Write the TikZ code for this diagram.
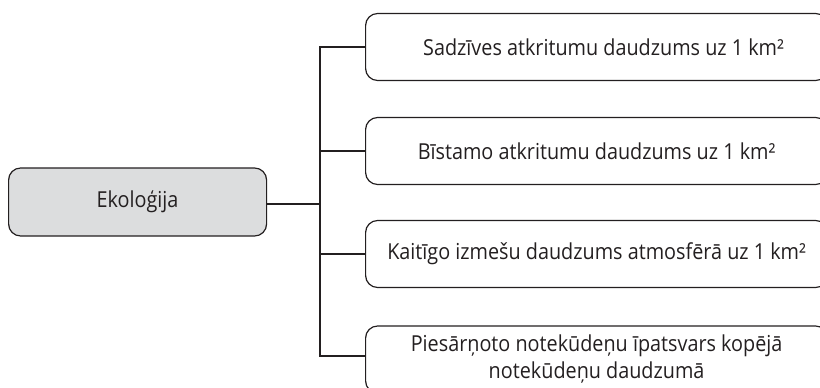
\documentclass[tikz,border=0pt]{standalone}
\usepackage{fontspec}
\setmainfont{Open Sans}[FakeStretch=0.9]
\definecolor{boxgray}{RGB}{220,221,222}
\definecolor{edge}{RGB}{35,31,32}
\begin{document}
\begin{tikzpicture}[x=1pt,y=-1pt,
  every node/.style={font=\fontsize{22}{27}\selectfont, text=edge},
  itembox/.style={draw=edge, line width=1.2pt, rounded corners=12pt, minimum width=462pt, minimum height=67pt, inner sep=0pt, align=center, anchor=west},
  rootbox/.style={draw=edge, fill=boxgray, line width=1.2pt, rounded corners=12pt, minimum width=258pt, minimum height=68pt, inner sep=0pt, anchor=west},
  conn/.style={draw=edge, line width=1.2pt}]
\useasboundingbox (0,0) rectangle (820,388);
\node[rootbox] (root) at (8,202) {Ekoloģija};
\node[itembox] (b1) at (365,47) {\hspace*{14pt}Sadzīves atkritumu daudzums uz 1 km²};
\node[itembox] (b2) at (365,151) {Bīstamo atkritumu daudzums uz 1 km²};
\node[itembox] (b3) at (365,254) {Kaitīgo izmešu daudzums atmosfērā uz 1 km²};
\node[itembox] (b4) at (365,359.5) {Piesārņoto notekūdeņu īpatsvars kopējā\\notekūdeņu daudzumā};
\coordinate (bus) at (320,204);
\coordinate (b4in) at (320,356);
\draw[conn] (root.east |- bus) -- (bus);
\draw[conn] (b1.west) -| (bus) -- (b4in) -- (b4in -| b4.west);
\draw[conn] (b2.west) -- (b2.west -| bus);
\draw[conn] (b3.west) -- (b3.west -| bus);
\end{tikzpicture}
\end{document}
